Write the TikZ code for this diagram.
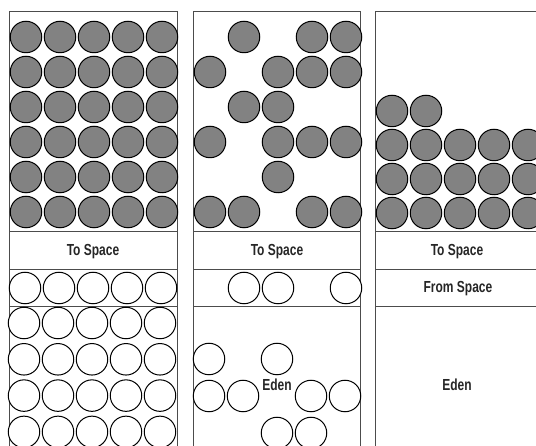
\documentclass[tikz,border=0pt]{standalone}
\usepackage{fontspec}
\newfontfamily\tagfont[FakeStretch=0.75]{Liberation Sans}
\usepackage{tikz}
\definecolor{livegray}{RGB}{130,130,130}
\tikzset{
  live/.style={circle,draw=black,line width=1pt,fill=livegray,
    minimum size=31.5pt,inner sep=0pt},
  dead/.style={circle,draw=black,line width=1pt,fill=white,
    minimum size=31.5pt,inner sep=0pt},
  area/.style={draw=black!70,line width=1pt},
  tag/.style={font=\tagfont\bfseries\fontsize{16}{18}\selectfont,
    text=black!85,inner sep=0pt}
}
\begin{document}
\begin{tikzpicture}[x=1pt,y=-1pt]
  \useasboundingbox (0,0) rectangle (536,446);
  \clip (0,0) rectangle (536,446);
  % heap areas
  \draw[area] (9,12) rectangle (177,460);
  \draw[area] (193,12) rectangle (360,460);
  \draw[area] (375,12) rectangle (545,460);
  \foreach \x/\y in {9/177,193/360,375/545}
    \foreach \h in {232,270,307}
      \draw[area] (\x,\h) -- (\y,\h);
  % before collection
  \foreach \r in {0,...,5}
    \foreach \c in {0,...,4}
      \node[live] (A\r\c) at ({26+34*\c},{37+35*\r}) {};
  \foreach \c in {0,...,4}
    \node[dead] (S\c) at ({25+34*\c},288) {};
  \foreach \r in {0,...,3}
    \foreach \c in {0,...,4}
      \node[dead] (E\r\c) at ({24+34*\c},{323+36.3*\r}) {};
  % after marking
  \foreach \c/\r in {1/0,3/0,4/0,0/1,2/1,3/1,4/1,1/2,2/2,
                     0/3,2/3,3/3,4/3,2/4,0/5,1/5,3/5,4/5}
    \node[live] (B\r\c) at ({210+34*\c},{37+35*\r}) {};
  \foreach \c in {1,2,4}
    \node[dead] (T\c) at ({210+34*\c},288) {};
  \foreach \c/\r in {0/0,2/0,0/1,1/1,3/1,4/1,2/2,3/2}
    \node[dead] (F\r\c) at ({209+34*\c},{359+37*\r}) {};
  % after compaction
  \foreach \c/\r in {0/0,1/0}
    \node[live] (C\r\c) at ({392+34*\c},{111+34*\r}) {};
  \foreach \r in {1,2,3}
    \foreach \c in {0,...,4}
      \node[live] (C\r\c) at ({392+34*\c},{111+34*\r}) {};
  % labels
  \node[tag] (to1) at (93,252) {To Space};
  \node[tag] (to2) at (277,252) {To Space};
  \node[tag] (to3) at (457,252) {To Space};
  \node[tag] (from3) at (458,289) {From Space};
  \node[tag] (eden2) at (277,385) {Eden};
  \node[tag] (eden3) at (457,385) {Eden};
\end{tikzpicture}
\end{document}
